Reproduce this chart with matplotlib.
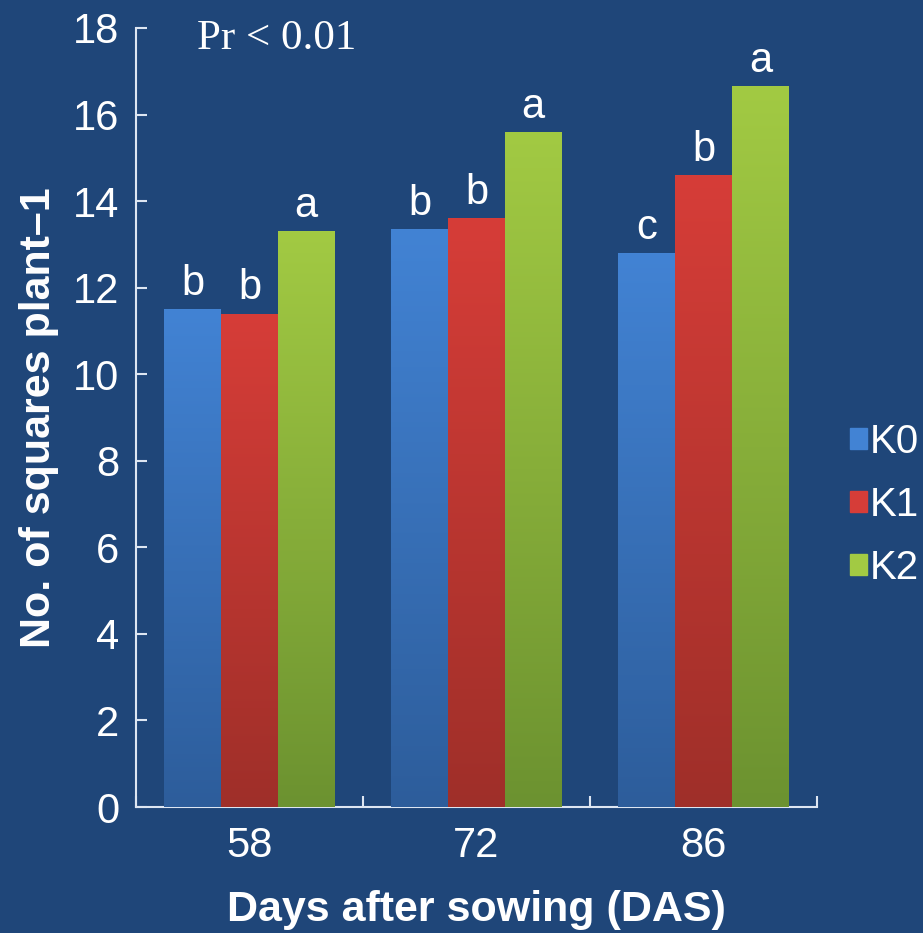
import numpy as np
import matplotlib.pyplot as plt
from matplotlib.colors import LinearSegmentedColormap

# squares per plant at each sampling date, by potassium level
days = ["58", "72", "86"]
treatments = ["K0", "K1", "K2"]
k0 = [11.5, 13.35, 12.8]
k1 = [11.4, 13.6, 14.6]
k2 = [13.3, 15.6, 16.65]
k0_sig = ["b", "b", "c"]
k1_sig = ["b", "b", "b"]
k2_sig = ["a", "a", "a"]

bg = "#1f4679"
fg = "white"
# (top, bottom) colours of the bar gradients
shades = [("#4283d4", "#2d5d9b"), ("#d63d38", "#9f2f29"), ("#a2ca43", "#6c9230")]

plt.rcParams["font.family"] = ["Liberation Sans", "DejaVu Sans"]

fig = plt.figure(figsize=(9.23, 9.33), dpi=100, facecolor=bg)
ax = fig.add_axes([0.1473, 0.135, 0.738, 0.835], facecolor=bg)

x = np.arange(len(days))
width = 0.25
series = [k0, k1, k2]
sigs = [k0_sig, k1_sig, k2_sig]

for i, (vals, sig, (top, bot), name) in enumerate(zip(series, sigs, shades, treatments)):
    pos = x + (i - 1) * width
    bars = ax.bar(pos, vals, width, color=top, edgecolor="none", label=name, zorder=2)
    cmap = LinearSegmentedColormap.from_list(name, [bot, top])
    grad = np.linspace(0, 1, 256).reshape(-1, 1)
    for b in bars:
        x0, w, h = b.get_x(), b.get_width(), b.get_height()
        im = ax.imshow(grad, cmap=cmap, aspect="auto", origin="lower",
                       extent=[x0, x0 + w, 0, h], zorder=3)
        im.set_clip_path(b)
    for p, v, s in zip(pos, vals, sig):
        ax.text(p, v + 0.12, s, ha="center", va="bottom", color=fg, fontsize=30, zorder=4)

ax.set_xlim(-0.5, 2.5)
ax.set_ylim(0, 18)
ax.set_yticks(np.arange(0, 19, 2))
ax.set_xticks(x)
ax.set_xticklabels(days)
ax.set_xticks([-0.5, 0.5, 1.5, 2.5], minor=True)
ax.tick_params(axis="x", which="major", length=0, pad=14, labelsize=30, colors=fg)
ax.tick_params(axis="x", which="minor", direction="in", length=8, width=1.5, color="#dde6f2")
ax.tick_params(axis="y", direction="in", length=8, width=1.5, color="#dde6f2",
               labelsize=30, labelcolor=fg, pad=12)

for side in ["top", "right"]:
    ax.spines[side].set_visible(False)
for side in ["left", "bottom"]:
    ax.spines[side].set_color("#dde6f2")
    ax.spines[side].set_linewidth(1.5)

ax.set_xlabel("Days after sowing (DAS)", fontsize=31, fontweight="bold", color=fg, labelpad=17)
ax.set_ylabel("No. of squares plant\u20131", fontsize=31, fontweight="bold", color=fg, labelpad=10)

fig.text(0.2135, 0.9475, "Pr < 0.01", ha="left", va="baseline",
         fontsize=31, color=fg, family=["Liberation Serif", "DejaVu Serif"])

handles = [plt.Rectangle((0, 0), 1, 1, color=top) for top, _ in shades]
leg = fig.legend(handles, treatments, loc="center left", bbox_to_anchor=(0.921, 0.459),
                 frameon=False, fontsize=29, handlelength=0.42, handleheight=0.42,
                 handletextpad=0.08, labelspacing=0.62, borderaxespad=0, borderpad=0)
for t in leg.get_texts():
    t.set_color(fg)

fig.savefig("out.png", dpi=100, facecolor=bg)
